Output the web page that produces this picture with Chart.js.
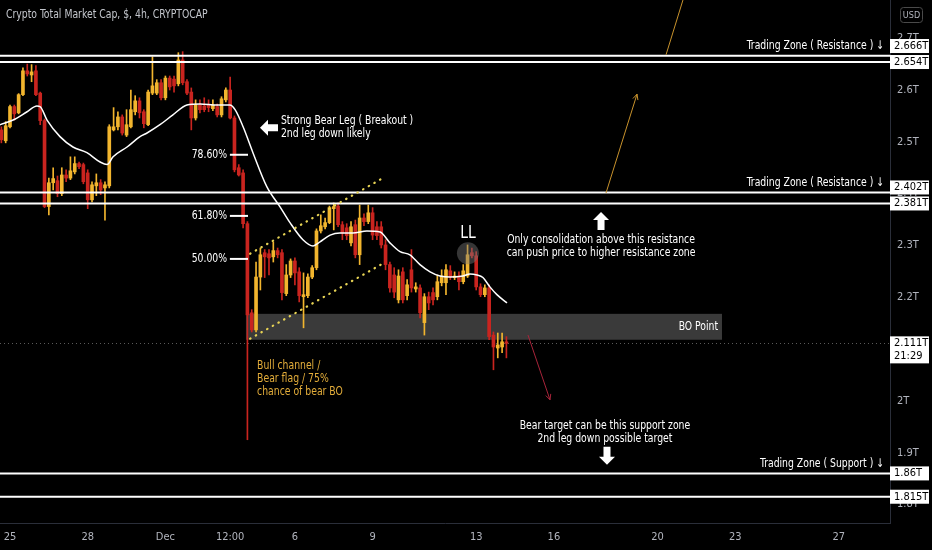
<!DOCTYPE html>
<html>
<head>
<meta charset="utf-8">
<script src="https://cdn.jsdelivr.net/npm/chart.js@4.4.1/dist/chart.umd.min.js"></script>
<style>
html, body { margin: 0; padding: 0; background: #000; }
#wrap { width: 932px; height: 550px; }
</style>
</head>
<body>
<div id="wrap"><canvas id="chart"></canvas></div>
<script>
// Time axis unit: days since 25 Nov 00:00. Each candle is 4 hours.
const firstCandleDay = -1 / 3;   // 24 Nov 16:00
const candleStep = 1 / 6;

// Candle values in trillions of dollars.
const opens = [
  2.523, 2.502, 2.529, 2.568, 2.556, 2.591, 2.637, 2.629, 2.637, 2.594,
  2.541, 2.375, 2.421, 2.425, 2.400, 2.436, 2.430, 2.442, 2.458, 2.456,
  2.440, 2.388, 2.415, 2.421, 2.411, 2.415, 2.523, 2.529, 2.548, 2.513,
  2.529, 2.558, 2.579, 2.558, 2.533, 2.594, 2.594, 2.614, 2.585, 2.623,
  2.621, 2.612, 2.658, 2.616, 2.596, 2.546, 2.571, 2.569, 2.571, 2.564,
  2.568, 2.552, 2.581, 2.600, 2.546, 2.450, 2.440, 2.342, 2.170, 2.137,
  2.239, 2.286, 2.284, 2.278, 2.290, 2.286, 2.207, 2.243, 2.270, 2.249,
  2.201, 2.203, 2.239, 2.257, 2.328, 2.336, 2.344, 2.371, 2.376, 2.340,
  2.334, 2.305, 2.340, 2.282, 2.353, 2.346, 2.363, 2.336, 2.336, 2.301,
  2.263, 2.243, 2.195, 2.249, 2.203, 2.253, 2.216, 2.218, 2.151, 2.201,
  2.209, 2.201, 2.228, 2.228, 2.251, 2.238, 2.241, 2.230, 2.241, 2.286,
  2.280, 2.220, 2.205, 2.218, 2.127, 2.102, 2.104, 2.114
];
const highs = [
  2.529, 2.539, 2.571, 2.571, 2.593, 2.643, 2.650, 2.649, 2.647, 2.596,
  2.544, 2.430, 2.450, 2.434, 2.450, 2.446, 2.471, 2.471, 2.461, 2.459,
  2.446, 2.423, 2.438, 2.427, 2.423, 2.533, 2.566, 2.558, 2.552, 2.562,
  2.600, 2.589, 2.585, 2.562, 2.600, 2.664, 2.620, 2.620, 2.627, 2.627,
  2.627, 2.672, 2.674, 2.620, 2.604, 2.581, 2.581, 2.585, 2.581, 2.581,
  2.573, 2.587, 2.604, 2.625, 2.550, 2.456, 2.446, 2.346, 2.176, 2.268,
  2.295, 2.292, 2.292, 2.307, 2.295, 2.292, 2.263, 2.274, 2.276, 2.257,
  2.247, 2.245, 2.261, 2.332, 2.359, 2.353, 2.376, 2.382, 2.382, 2.346,
  2.342, 2.346, 2.349, 2.378, 2.361, 2.378, 2.373, 2.346, 2.346, 2.311,
  2.268, 2.257, 2.253, 2.257, 2.234, 2.292, 2.228, 2.224, 2.207, 2.210,
  2.218, 2.243, 2.253, 2.263, 2.261, 2.249, 2.249, 2.263, 2.301, 2.295,
  2.288, 2.226, 2.224, 2.224, 2.133, 2.131, 2.131, 2.124
];
const lows = [
  2.498, 2.498, 2.527, 2.542, 2.554, 2.589, 2.627, 2.616, 2.589, 2.533,
  2.373, 2.359, 2.407, 2.394, 2.396, 2.423, 2.427, 2.438, 2.448, 2.419,
  2.371, 2.384, 2.396, 2.398, 2.349, 2.411, 2.521, 2.523, 2.513, 2.510,
  2.527, 2.552, 2.546, 2.527, 2.531, 2.591, 2.591, 2.581, 2.581, 2.600,
  2.596, 2.608, 2.610, 2.591, 2.523, 2.542, 2.556, 2.558, 2.558, 2.560,
  2.548, 2.548, 2.577, 2.544, 2.442, 2.434, 2.334, 1.925, 2.133, 2.133,
  2.214, 2.238, 2.243, 2.268, 2.276, 2.195, 2.203, 2.238, 2.224, 2.191,
  2.141, 2.199, 2.236, 2.253, 2.324, 2.332, 2.342, 2.330, 2.336, 2.311,
  2.311, 2.299, 2.276, 2.263, 2.338, 2.342, 2.311, 2.311, 2.295, 2.253,
  2.210, 2.199, 2.189, 2.189, 2.195, 2.210, 2.210, 2.160, 2.127, 2.176,
  2.185, 2.195, 2.222, 2.205, 2.234, 2.234, 2.214, 2.226, 2.238, 2.276,
  2.214, 2.201, 2.201, 2.118, 2.060, 2.083, 2.093, 2.083
];
const closes = [
  2.504, 2.531, 2.568, 2.554, 2.591, 2.637, 2.631, 2.635, 2.591, 2.541,
  2.375, 2.421, 2.429, 2.400, 2.436, 2.430, 2.444, 2.458, 2.452, 2.423,
  2.388, 2.417, 2.421, 2.407, 2.417, 2.529, 2.529, 2.548, 2.517, 2.533,
  2.562, 2.579, 2.556, 2.535, 2.596, 2.608, 2.614, 2.585, 2.623, 2.606,
  2.608, 2.658, 2.614, 2.594, 2.546, 2.571, 2.562, 2.562, 2.566, 2.571,
  2.552, 2.583, 2.600, 2.546, 2.446, 2.436, 2.342, 2.166, 2.137, 2.239,
  2.282, 2.278, 2.276, 2.290, 2.282, 2.209, 2.243, 2.270, 2.247, 2.203,
  2.205, 2.239, 2.257, 2.328, 2.338, 2.344, 2.373, 2.375, 2.340, 2.324,
  2.319, 2.336, 2.282, 2.353, 2.346, 2.363, 2.320, 2.319, 2.301, 2.263,
  2.218, 2.210, 2.241, 2.195, 2.224, 2.218, 2.220, 2.170, 2.201, 2.189,
  2.195, 2.230, 2.241, 2.253, 2.239, 2.241, 2.230, 2.251, 2.282, 2.280,
  2.220, 2.205, 2.218, 2.124, 2.104, 2.108, 2.114, 2.111
];

// Moving average (white line).
const maDays = [
  -0.39, 0.12, 0.66, 1.04, 1.16, 1.43, 1.93, 2.43, 2.97, 3.48,
  3.75, 3.98, 4.52, 5.02, 5.29, 5.79, 6.29, 6.83, 7.34, 7.99,
  8.49, 8.69, 9.00, 9.38, 9.92, 10.42, 10.81, 11.31, 11.70, 11.97,
  12.36, 12.74, 13.24, 13.78, 14.29, 14.67, 15.06, 15.44, 15.83, 16.22,
  16.60, 16.99, 17.49, 17.76, 18.03, 18.26, 18.53, 18.80, 19.19
];
const maValues = [
  2.533, 2.542, 2.558, 2.569, 2.568, 2.542, 2.510, 2.490, 2.479, 2.461,
  2.456, 2.471, 2.490, 2.510, 2.517, 2.533, 2.552, 2.571, 2.573, 2.571,
  2.571, 2.562, 2.529, 2.479, 2.413, 2.375, 2.344, 2.311, 2.299, 2.307,
  2.320, 2.324, 2.324, 2.328, 2.326, 2.305, 2.288, 2.282, 2.263, 2.249,
  2.241, 2.239, 2.241, 2.245, 2.243, 2.238, 2.220, 2.205, 2.189
];

// Horizontal zone levels and their captions.
const zoneLevels = [2.666, 2.654, 2.402, 2.381, 1.86, 1.815];
const zoneLabels = ["2.666T", "2.654T", "2.402T", "2.381T", "1.86T", "1.815T"];
const zoneCaptionLevels = [2.666, 2.402, 1.86];
const zoneCaptions = ["Trading Zone ( Resistance ) \u2193", "Trading Zone ( Resistance ) \u2193", "Trading Zone ( Support ) \u2193"];

// Fibonacci retracement marks.
const fibLabels = ["78.60%", "61.80%", "50.00%"];
const fibPrices = [2.475, 2.357, 2.274];

const lastPrice = 2.111;
const lastPriceLabel = "2.111T";
const countdown = "21:29";

// Axis ticks.
const timeTicks = [0, 3, 6, 8.5, 11, 14, 18, 21, 25, 28, 32];
const timeTickLabels = ["25", "28", "Dec", "12:00", "6", "9", "13", "16", "20", "23", "27"];
const priceTicks = [1.8, 1.9, 2.0, 2.1, 2.2, 2.3, 2.4, 2.5, 2.6, 2.7];

// Visible window.
const X_MIN = -0.386, X_MAX = 33.977;
const Y_MIN = 1.7643, Y_MAX = 2.7737;

const FONT = '"Liberation Sans Narrow", "DejaVu Sans Condensed", "Open Sans", sans-serif';
const SQUEEZE = 0.86;
const BULL = '#f2b52e';
const BEAR = '#c9241f';
const AXIS_TEXT = '#b2b5be';
const GOLD = '#e3ad3a';

// Build candle data from the arrays.
const candleDays = opens.map((_, i) => firstCandleDay + i * candleStep);
const candleColors = opens.map((o, i) => closes[i] >= o ? BULL : BEAR);
const bodies = opens.map((o, i) => ({ x: candleDays[i], y: [o, closes[i]] }));
const wicks = opens.map((o, i) => ({ x: candleDays[i], y: [lows[i], highs[i]] }));
const maPoints = maDays.map((d, i) => ({ x: d, y: maValues[i] }));

const zoneDatasets = zoneLevels.map(level => ({
	type: 'line',
	data: [{ x: X_MIN, y: level }, { x: X_MAX, y: level }],
	borderColor: '#ffffff',
	borderWidth: 2,
	pointRadius: 0,
	order: 0
}));

// Chart drawings anchored to time/price.
const notes = {
	bearLeg: { x: 10.46, y: 2.540, lines: ["Strong Bear Leg ( Breakout )", "2nd leg down likely"] },
	consolidation: { x: 22.82, y: 2.310, lines: ["Only consolidation above this resistance", "can push price to higher resistance zone"] },
	bearTarget: { x: 22.97, y: 1.952, lines: ["Bear target can be this support zone", "2nd leg down possible target"] },
	channel: { x: 9.54, y: 2.067, lines: ["Bull channel /", "Bear flag / 75%", "chance of bear BO"] },
	boPoint: { x: 27.34, y: 2.143, text: "BO Point" },
	ll: { x: 17.68, y: 2.324, circleY: 2.285, text: "LL" }
};
const boBox = { from: 9.11, to: 27.49, top: 2.168, bottom: 2.118 };
const channelLines = [
	[9.27, 2.284, 14.36, 2.429],
	[9.27, 2.120, 14.36, 2.264]
];
const arrowLines = [
	{ pts: [23.01, 2.401, 24.21, 2.592], color: '#c8922c' },
	{ pts: [25.33, 2.668, 26.64, 2.880], color: '#c8922c' },
	{ pts: [20.0, 2.127, 20.85, 2.002], color: '#a8243a' }
];
const blockArrows = [
	{ x: 10.0, y: 2.527, angle: -Math.PI / 2 },
	{ x: 22.82, y: 2.347, angle: 0 },
	{ x: 23.05, y: 1.894, angle: Math.PI }
];
const fibFrom = 8.49, fibTo = 9.19, fibTextX = 8.38;

function fmtPrice(v) {
	const r = Math.round(v * 10) / 10;
	return (r % 1 === 0 ? r.toFixed(0) : r.toFixed(1)) + 'T';
}

// Draw stacked text lines, squeezed a little to get the narrow look of the original.
function lines(ctx, arr, px, py, align, color, size) {
	ctx.font = size + 'px ' + FONT;
	ctx.fillStyle = color;
	ctx.textAlign = align;
	ctx.textBaseline = 'middle';
	arr.forEach((t, i) => {
		ctx.save();
		ctx.translate(px, py + i * 13);
		ctx.scale(SQUEEZE, 1);
		ctx.fillText(t, 0, 0);
		ctx.restore();
	});
}

function arrowLine(ctx, x1, y1, x2, y2, color) {
	ctx.strokeStyle = color;
	ctx.lineWidth = 1;
	ctx.beginPath();
	ctx.moveTo(x1, y1);
	ctx.lineTo(x2, y2);
	const a = Math.atan2(y2 - y1, x2 - x1);
	ctx.moveTo(x2 - 6 * Math.cos(a - 0.45), y2 - 6 * Math.sin(a - 0.45));
	ctx.lineTo(x2, y2);
	ctx.lineTo(x2 - 6 * Math.cos(a + 0.45), y2 - 6 * Math.sin(a + 0.45));
	ctx.stroke();
}

function blockArrow(ctx, cx, cy, angle) {
	const pts = [[0, -9], [8, -1], [3.5, -1], [3.5, 9], [-3.5, 9], [-3.5, -1], [-8, -1]];
	ctx.save();
	ctx.translate(cx, cy);
	ctx.rotate(angle);
	ctx.fillStyle = '#ffffff';
	ctx.beginPath();
	pts.forEach((p, i) => i ? ctx.lineTo(p[0], p[1]) : ctx.moveTo(p[0], p[1]));
	ctx.closePath();
	ctx.fill();
	ctx.restore();
}

function priceBox(ctx, left, cy, textLines) {
	const h = 14 + (textLines.length - 1) * 13;
	ctx.fillStyle = '#ffffff';
	ctx.fillRect(left, cy - 7, 39, h);
	ctx.fillStyle = '#000000';
	ctx.font = '11px ' + FONT;
	ctx.textAlign = 'left';
	ctx.textBaseline = 'middle';
	textLines.forEach((t, i) => ctx.fillText(t, left + 4, cy + i * 13));
}

const drawings = {
	id: 'drawings',
	beforeDatasetsDraw(chart) {
		const { ctx, chartArea: area, scales: { x, y } } = chart;
		ctx.save();
		// Breakout box behind the candles.
		const bx1 = x.getPixelForValue(boBox.from), bx2 = x.getPixelForValue(boBox.to);
		const by1 = y.getPixelForValue(boBox.top), by2 = y.getPixelForValue(boBox.bottom);
		ctx.fillStyle = '#3a3a3a';
		ctx.fillRect(bx1, by1, bx2 - bx1, by2 - by1);
		// Last price dotted line.
		const ly = Math.round(y.getPixelForValue(lastPrice)) + 0.5;
		ctx.strokeStyle = '#5a5a5a';
		ctx.lineWidth = 1;
		ctx.setLineDash([1, 3]);
		ctx.beginPath();
		ctx.moveTo(area.left, ly);
		ctx.lineTo(area.right, ly);
		ctx.stroke();
		ctx.restore();
	},
	afterDatasetsDraw(chart) {
		const { ctx, chartArea: area, scales: { x, y } } = chart;
		const px = v => x.getPixelForValue(v), py = v => y.getPixelForValue(v);
		ctx.save();
		ctx.beginPath();
		ctx.rect(area.left, area.top, area.right - area.left, area.bottom - area.top);
		ctx.clip();

		// Bull channel, dotted.
		ctx.strokeStyle = '#e6d254';
		ctx.lineWidth = 2.2;
		ctx.lineCap = 'round';
		ctx.setLineDash([0.5, 6]);
		channelLines.forEach(l => {
			ctx.beginPath();
			ctx.moveTo(px(l[0]), py(l[1]));
			ctx.lineTo(px(l[2]), py(l[3]));
			ctx.stroke();
		});
		ctx.setLineDash([]);
		ctx.lineCap = 'butt';

		// Thin arrows.
		arrowLines.forEach(a => arrowLine(ctx, px(a.pts[0]), py(a.pts[1]), px(a.pts[2]), py(a.pts[3]), a.color));

		// Fibonacci levels.
		ctx.strokeStyle = '#ffffff';
		ctx.lineWidth = 2;
		fibPrices.forEach((p, i) => {
			ctx.beginPath();
			ctx.moveTo(px(fibFrom), py(p));
			ctx.lineTo(px(fibTo), py(p));
			ctx.stroke();
			lines(ctx, [fibLabels[i]], px(fibTextX), py(p), 'right', '#ffffff', 12);
		});

		// LL marker.
		ctx.fillStyle = 'rgba(120,120,120,0.45)';
		ctx.beginPath();
		ctx.arc(px(notes.ll.x), py(notes.ll.circleY), 11, 0, Math.PI * 2);
		ctx.fill();
		lines(ctx, [notes.ll.text], px(notes.ll.x), py(notes.ll.y), 'center', '#ffffff', 18);

		// Notes.
		lines(ctx, notes.bearLeg.lines, px(notes.bearLeg.x), py(notes.bearLeg.y), 'left', '#ffffff', 12);
		lines(ctx, notes.consolidation.lines, px(notes.consolidation.x), py(notes.consolidation.y), 'center', '#ffffff', 12);
		lines(ctx, notes.bearTarget.lines, px(notes.bearTarget.x), py(notes.bearTarget.y), 'center', '#ffffff', 12);
		lines(ctx, notes.channel.lines, px(notes.channel.x), py(notes.channel.y), 'left', GOLD, 12);
		lines(ctx, [notes.boPoint.text], px(notes.boPoint.x), py(notes.boPoint.y), 'right', '#ffffff', 12);
		blockArrows.forEach(b => blockArrow(ctx, px(b.x), py(b.y), b.angle));

		// Zone captions.
		zoneCaptionLevels.forEach((lv, i) => lines(ctx, [zoneCaptions[i]], area.right - 6, py(lv) - 10, 'right', '#ffffff', 12));
		ctx.restore();
	},
	afterDraw(chart) {
		const { ctx, chartArea: area, scales: { y } } = chart;
		ctx.save();
		// Title.
		lines(ctx, ["Crypto Total Market Cap, $, 4h, CRYPTOCAP"], 6, 15, 'left', '#c3c6cc', 12);

		const left = area.right;
		// Zone price labels, pushed apart where they would overlap.
		const tags = zoneLevels.map((lv, i) => ({ y: y.getPixelForValue(lv), text: zoneLabels[i] }))
			.sort((a, b) => b.y - a.y);
		for (let i = 1; i < tags.length; i++) {
			if (tags[i - 1].y - tags[i].y < 16) tags[i].y = tags[i - 1].y - 16;
		}
		tags.forEach(t => priceBox(ctx, left, t.y, [t.text]));
		priceBox(ctx, left, y.getPixelForValue(lastPrice), [lastPriceLabel, countdown]);

		// Currency button.
		ctx.strokeStyle = '#4a4a4a';
		ctx.lineWidth = 1;
		ctx.beginPath();
		ctx.roundRect(900.5, 7.5, 22, 15, 3);
		ctx.stroke();
		ctx.font = '9px ' + FONT;
		ctx.fillStyle = AXIS_TEXT;
		ctx.textAlign = 'center';
		ctx.textBaseline = 'middle';
		ctx.fillText('USD', 911.5, 15.5);
		ctx.restore();
	}
};

new Chart(document.getElementById('chart'), {
	type: 'bar',
	data: {
		datasets: [
			...zoneDatasets,
			{
				type: 'line',
				data: maPoints,
				borderColor: '#ffffff',
				borderWidth: 1.5,
				pointRadius: 0,
				cubicInterpolationMode: 'monotone',
				order: 1
			},
			{
				data: bodies,
				backgroundColor: candleColors,
				barThickness: 3,
				minBarLength: 1,
				grouped: false,
				order: 2
			},
			{
				data: wicks,
				backgroundColor: candleColors,
				barThickness: 1,
				grouped: false,
				order: 3
			}
		]
	},
	options: {
		responsive: true,
		maintainAspectRatio: false,
		animation: false,
		devicePixelRatio: 1,
		layout: { padding: 0 },
		plugins: { legend: { display: false }, tooltip: { enabled: false } },
		scales: {
			x: {
				type: 'linear',
				min: X_MIN,
				max: X_MAX,
				offset: false,
				grid: { display: false, offset: false, drawTicks: false },
				border: { display: true, color: '#2a2e39' },
				afterBuildTicks: s => { s.ticks = timeTicks.map(v => ({ value: v })); },
				afterFit: s => { s.height = 27; s.paddingLeft = 0; s.paddingRight = 0; },
				ticks: {
					color: AXIS_TEXT,
					font: { family: FONT, size: 11 },
					padding: 8,
					maxRotation: 0,
					autoSkip: false,
					callback: (v, i) => timeTickLabels[i]
				}
			},
			y: {
				position: 'right',
				min: Y_MIN,
				max: Y_MAX,
				grid: { display: false, drawTicks: false },
				border: { display: true, color: '#2a2e39' },
				afterBuildTicks: s => { s.ticks = priceTicks.map(v => ({ value: v })); },
				afterFit: s => { s.width = 42; s.paddingTop = 0; s.paddingBottom = 0; },
				ticks: {
					color: AXIS_TEXT,
					font: { family: FONT, size: 11 },
					padding: 7,
					callback: v => fmtPrice(v)
				}
			}
		}
	},
	plugins: [drawings]
});
</script>
</body>
</html>
